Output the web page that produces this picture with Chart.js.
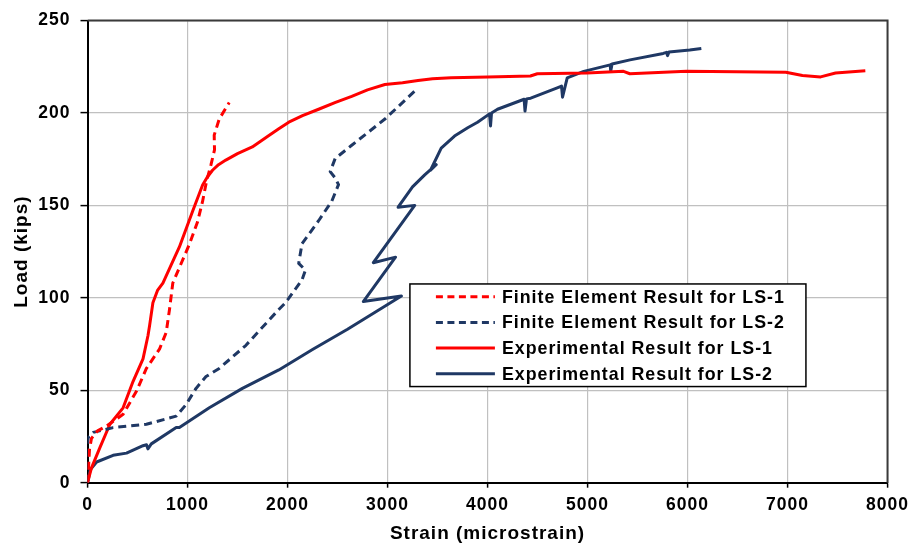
<!DOCTYPE html>
<html>
<head>
<meta charset="utf-8">
<script src="https://cdn.jsdelivr.net/npm/chart.js@4.4.1/dist/chart.umd.min.js"></script>
<style>
  html, body { margin: 0; padding: 0; background: #ffffff; }
  #wrap { width: 916px; height: 546px; }
</style>
</head>
<body>
<div id="wrap"><canvas id="c" width="916" height="546"></canvas></div>
<script>
// Series labels
const seriesLabels = [
  'Finite Element Result for LS-1',
  'Finite Element Result for LS-2',
  'Experimental Result for LS-1',
  'Experimental Result for LS-2'
];

// Axis ticks
const strainTicks = [0, 1000, 2000, 3000, 4000, 5000, 6000, 7000, 8000];
const loadTicks = [0, 50, 100, 150, 200, 250];

// Finite element model, LS-1 (strain in microstrain, load in kips)
const feLs1Strain = [0, 10, 20, 40, 100, 191, 356, 489, 589, 721, 787, 820, 853, 1019, 1100, 1150, 1190, 1235, 1270, 1267, 1317, 1417];
const feLs1Load   = [0, 8, 18, 24, 28, 30.7, 37, 49.4, 61.8, 72.4, 81.3, 93.7, 108, 129, 141, 152, 163, 172, 180, 188, 196.7, 205.6];

// Finite element model, LS-2
const feLs2Strain = [0, 0, 8, 58, 256, 589, 887, 986, 1085, 1185, 1317, 1582, 1913, 1980, 2145, 2179, 2112, 2145, 2311, 2443, 2510, 2477, 2427, 2477, 2642, 2808, 2974, 3272];
const feLs2Load   = [0, 22, 24.5, 27.2, 29.8, 31.6, 36, 42.3, 51, 57.4, 61.8, 74.2, 93.7, 97.3, 109.7, 115, 118.6, 129.3, 141.7, 152.3, 161.2, 164.8, 168.3, 175.4, 182.5, 189.6, 196.7, 211.8];

// Test measurements, LS-1
const exLs1Strain = [0, 40, 124, 224, 356, 455, 555, 605, 621, 654, 700, 754, 830, 919, 1052, 1151, 1200, 1250, 1310, 1383, 1500, 1648, 1814, 1913, 2013, 2150, 2311, 2480, 2642, 2800, 2974, 3150, 3305, 3450, 3636, 4001, 4429, 4498, 4995, 5360, 5423, 5989, 6983, 7149, 7331, 7480, 7778];
const exLs1Load   = [0, 8, 19, 31.6, 40.5, 54.7, 67, 79.6, 85, 97.3, 104, 108, 117, 127.5, 147, 161, 165.5, 169, 172, 174.5, 178, 181.6, 187.8, 191.4, 195, 198.5, 202, 205.7, 209, 212.5, 215.4, 216.3, 217.5, 218.5, 219, 219.4, 220, 221.2, 221.6, 222.5, 221.2, 222.5, 222, 220.2, 219.5, 221.6, 222.8];

// Test measurements, LS-2
const exLs2Strain = [0, 8, 25, 91, 256, 390, 555, 590, 604, 638, 887, 919, 1218, 1549, 1913, 2250, 2600, 2900, 3139, 2758, 3080, 2858, 3272, 3106, 3250, 3372, 3487, 3430, 3537, 3670, 3802, 3900, 4020, 4030, 4040, 4100, 4366, 4375, 4390, 4432, 4697, 4740, 4750, 4797, 4962, 5227, 5232, 5245, 5425, 5757, 5790, 5800, 5815, 6022, 6138];
const exLs2Load   = [0, 1.4, 6.8, 11.2, 14.8, 16, 20, 20.5, 18.3, 21, 29.8, 29.8, 40.5, 51, 61, 72, 83, 93, 101, 98, 122, 119, 150, 149, 160, 166.5, 172, 169, 181, 187.5, 192, 195, 199.5, 193, 200, 202, 207.4, 201, 207.6, 208, 213.6, 214.5, 208.5, 219, 222.5, 226, 222.5, 226.5, 228.7, 232.2, 232.8, 231, 233, 234, 234.9];

const RED = '#FF0000';
const NAVY = '#1F3864';
const TEXT_FONT = '"Liberation Sans", Arial, sans-serif';

function pairs(xs, ys) {
  return xs.map((x, i) => ({ x: x, y: ys[i] }));
}

function lineSet(label, xs, ys, color, dashed) {
  return {
    label: label,
    data: pairs(xs, ys),
    showLine: true,
    borderColor: color,
    backgroundColor: color,
    borderWidth: 3,
    borderDash: dashed ? [8, 5] : [],
    borderJoinStyle: 'round',
    pointRadius: 0,
    pointHoverRadius: 0,
    tension: 0,
    fill: false
  };
}

// Slightly spaced-out lettering for every text drawn on the canvas
const spacedText = {
  id: 'spacedText',
  beforeLayout(chart) { chart.ctx.letterSpacing = '1px'; },
  beforeDraw(chart) { chart.ctx.letterSpacing = '1px'; }
};

// Dark frame on the top and right of the plot area
const plotFrame = {
  id: 'plotFrame',
  afterDraw(chart) {
    const { ctx, chartArea: a } = chart;
    ctx.save();
    ctx.strokeStyle = '#3a3a3a';
    ctx.lineWidth = 2;
    ctx.beginPath();
    ctx.moveTo(a.left, a.top);
    ctx.lineTo(a.right, a.top);
    ctx.lineTo(a.right, a.bottom);
    ctx.stroke();
    ctx.restore();
  }
};

// Boxed legend inside the plot area
const boxLegend = {
  id: 'boxLegend',
  afterDraw(chart) {
    const { ctx, chartArea: a } = chart;
    const w = a.right - a.left, h = a.bottom - a.top;
    const L = a.left + 0.403 * w, R = a.left + 0.898 * w;
    const T = a.top + 0.570 * h, B = a.top + 0.792 * h;
    ctx.save();
    ctx.fillStyle = '#ffffff';
    ctx.fillRect(L, T, R - L, B - T);
    ctx.strokeStyle = '#000000';
    ctx.lineWidth = 1.5;
    ctx.setLineDash([]);
    ctx.strokeRect(L, T, R - L, B - T);
    const rowH = (B - T) / chart.data.datasets.length;
    chart.data.datasets.forEach((ds, i) => {
      const y = T + rowH * (i + 0.5);
      ctx.beginPath();
      ctx.setLineDash(ds.borderDash && ds.borderDash.length ? [7, 4.5] : []);
      ctx.strokeStyle = ds.borderColor;
      ctx.lineWidth = 3;
      ctx.moveTo(L + 26, y);
      ctx.lineTo(L + 85, y);
      ctx.stroke();
      ctx.setLineDash([]);
      ctx.fillStyle = '#000000';
      ctx.font = 'bold 17.8px ' + TEXT_FONT;
      ctx.textAlign = 'left';
      ctx.textBaseline = 'middle';
      ctx.fillText(ds.label, L + 92, y + 1);
    });
    ctx.restore();
  }
};

const plainNumber = (v) => String(v);

const ctx = document.getElementById('c').getContext('2d');
new Chart(ctx, {
  type: 'scatter',
  data: {
    datasets: [
      lineSet(seriesLabels[0], feLs1Strain, feLs1Load, RED, true),
      lineSet(seriesLabels[1], feLs2Strain, feLs2Load, NAVY, true),
      lineSet(seriesLabels[2], exLs1Strain, exLs1Load, RED, false),
      lineSet(seriesLabels[3], exLs2Strain, exLs2Load, NAVY, false)
    ]
  },
  options: {
    responsive: false,
    animation: false,
    devicePixelRatio: 1,
    layout: { padding: { top: 13.3, right: 24, left: 0, bottom: 0 } },
    plugins: {
      legend: { display: false },
      tooltip: { enabled: false }
    },
    scales: {
      x: {
        type: 'linear',
        min: strainTicks[0],
        max: strainTicks[strainTicks.length - 1],
        afterBuildTicks(scale) { scale.ticks = strainTicks.map(v => ({ value: v })); },
        afterFit(scale) { scale.height = 63.3; },
        grid: { color: '#C0C0C0', lineWidth: 1.2, tickColor: '#000000', tickLength: 5, tickWidth: 1.5 },
        border: { color: '#000000', width: 2 },
        ticks: {
          padding: 7,
          maxRotation: 0,
          color: '#000000',
          callback: plainNumber,
          font: { family: TEXT_FONT, size: 17.5, weight: 'bold' }
        },
        title: {
          display: true,
          text: 'Strain (microstrain)',
          color: '#000000',
          padding: { top: 0, bottom: 1 },
          font: { family: TEXT_FONT, size: 19, weight: 'bold' }
        }
      },
      y: {
        type: 'linear',
        min: loadTicks[0],
        max: loadTicks[loadTicks.length - 1],
        afterBuildTicks(scale) { scale.ticks = loadTicks.map(v => ({ value: v })); },
        afterFit(scale) { scale.width = 87.5; },
        grid: { color: '#C0C0C0', lineWidth: 1.2, tickColor: '#000000', tickLength: 7, tickWidth: 1.5 },
        border: { color: '#000000', width: 2 },
        ticks: {
          padding: 10,
          color: '#000000',
          callback: plainNumber,
          font: { family: TEXT_FONT, size: 17.5, weight: 'bold' }
        },
        title: {
          display: true,
          text: 'Load (kips)',
          color: '#000000',
          padding: { top: 10, bottom: 0 },
          font: { family: TEXT_FONT, size: 19, weight: 'bold' }
        }
      }
    }
  },
  plugins: [spacedText, plotFrame, boxLegend]
});
</script>
</body>
</html>
